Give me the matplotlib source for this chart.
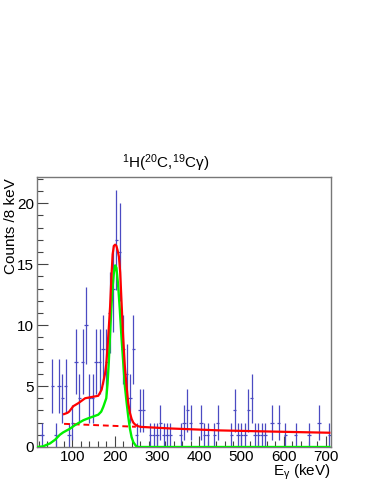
import numpy as np
import matplotlib
matplotlib.use('Agg')
import matplotlib.pyplot as plt
from matplotlib.ticker import MultipleLocator

plt.rcParams['font.family'] = ['Liberation Sans', 'DejaVu Sans']
plt.rcParams['mathtext.fontset'] = 'custom'
plt.rcParams['mathtext.rm'] = 'Liberation Sans'
plt.rcParams['mathtext.it'] = 'Liberation Sans:italic'

# histogram: 8 keV bins, centres 20 ... 708 keV
bin_width = 8
bin_centres = np.arange(20, 712, bin_width)
counts = np.array([
    0, 1, 0, 0, 5, 1, 5, 4, 5, 1,        # 20 - 92
    2, 7, 4, 7, 10, 4, 4, 7, 7, 8,       # 100 - 172
    7, 11, 13, 17, 16, 8, 6, 4, 8, 1,    # 180 - 252
    3, 3, 0, 1, 1, 1, 2, 1, 1, 1,        # 260 - 332
    0, 0, 1, 2, 3, 2, 0, 0, 2, 1,        # 340 - 412
    1, 0, 1, 2, 0, 0, 0, 1, 3, 1,        # 420 - 492
    1, 1, 3, 4, 1, 1, 1, 1, 0, 2,        # 500 - 572
    0, 2, 0, 1, 0, 0, 1, 0, 0, 0,        # 580 - 652
    1, 0, 0, 2, 0, 0, 1,                 # 660 - 708
])

# total fit (red)
fit_e = [80, 88, 92, 102, 114, 130, 145, 161, 169, 177, 180, 183, 186, 189,
         192, 195, 198, 201, 204, 207, 210, 213, 216, 220, 224, 228, 232,
         236, 240, 244, 248, 254, 262, 332, 450, 580, 708]
fit_y = [2.7, 2.8, 2.9, 3.35, 3.6, 4.0, 4.1, 4.2, 4.7, 6.0, 6.8, 8.2, 9.8,
         11.5, 13.8, 15.8, 16.5, 16.6, 16.5, 16.1, 15.6, 14.3, 12.0, 9.0,
         6.6, 5.0, 3.6, 2.8, 2.3, 2.0, 1.85, 1.72, 1.65, 1.52, 1.36, 1.26,
         1.17]

# background (red dashed)
bg_e = [80, 250]
bg_y = [1.9, 1.66]

# peak component (green)
peak_e = [16, 30, 47, 59, 70, 78, 94, 106, 126, 137, 145, 161, 168, 173,
          177, 180, 183, 186, 189, 192, 195, 198, 201, 204, 208, 212, 216,
          220, 224, 228, 232, 236, 240, 244, 250, 256, 708]
peak_y = [0.0, 0.05, 0.3, 0.6, 1.0, 1.2, 1.5, 1.8, 2.2, 2.35, 2.45, 2.65,
          2.9, 3.3, 3.7, 4.0, 5.2, 7.0, 9.3, 11.4, 13.1, 14.3, 14.9, 14.7,
          13.3, 11.3, 9.0, 7.0, 5.0, 3.7, 2.5, 1.5, 0.8, 0.4, 0.1, 0.0, 0.0]

fig = plt.figure(figsize=(3.74, 4.84), dpi=100)
ax = fig.add_axes([37/374, 37/484, 294/374, 270/484])

nz = counts > 0
ax.errorbar(bin_centres[nz], counts[nz], xerr=bin_width/2,
            yerr=np.sqrt(counts[nz]), fmt='none', ecolor='#4b4bc2',
            elinewidth=0.9, capsize=0, zorder=2)

ax.plot(fit_e, fit_y, color='#ff0000', lw=1.6, zorder=4)
ax.plot(bg_e, bg_y, color='#ff0000', lw=1.4, ls=(0, (3, 2)), zorder=3)
ax.plot(peak_e, peak_y, color='#00f000', lw=1.7, zorder=3)

ax.set_xlim(16, 712)
ax.set_ylim(0, 22.15)

ax.xaxis.set_major_locator(MultipleLocator(100))
ax.xaxis.set_minor_locator(MultipleLocator(20))
ax.yaxis.set_major_locator(MultipleLocator(5))
ax.yaxis.set_minor_locator(MultipleLocator(1))
ax.tick_params(which='both', direction='in', top=False, right=False,
               labelsize=11, pad=2, color='#444444')
ax.tick_params(which='major', length=8, width=0.8)
ax.tick_params(which='minor', length=4, width=0.8)

for s in ax.spines.values():
    s.set_color('#777777')
    s.set_linewidth(1.0)

fig.text(166/374, 1 - 163/484, r'$^{1}$H($^{20}$C,$^{19}$Cγ)',
         ha='center', va='center', fontsize=11)
fig.text(11/374, 1 - 178/484, 'Counts /8 keV', rotation=90,
         ha='center', va='top', fontsize=11)
fig.text(331/374, 1 - 472/484, r'E$_{\mathrm{γ}}$ (keV)',
         ha='right', va='center', fontsize=11)

fig.savefig('out.png', dpi=100)
